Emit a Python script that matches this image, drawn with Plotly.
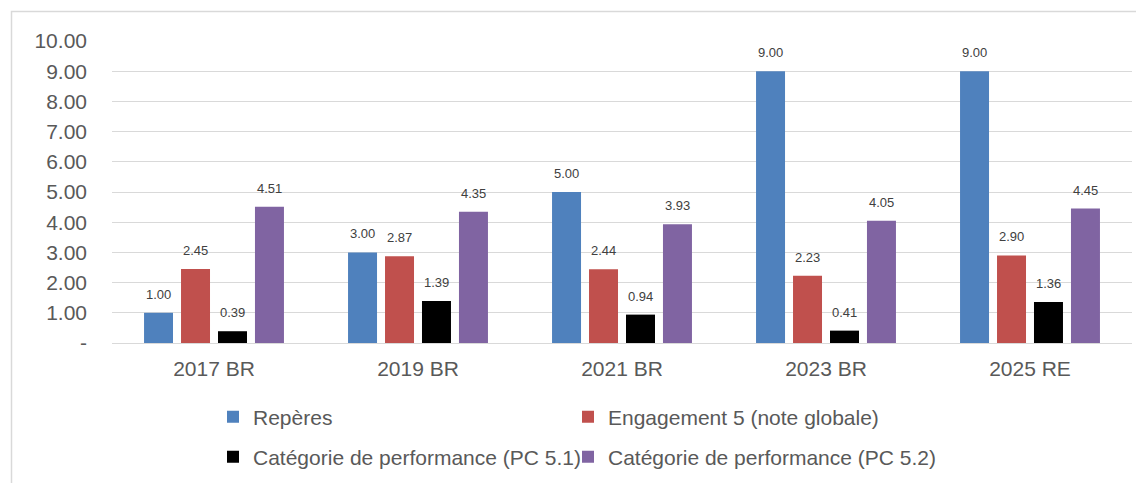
import plotly.graph_objects as go

categories = ["2017 BR", "2019 BR", "2021 BR", "2023 BR", "2025 RE"]
reperes = [1.00, 3.00, 5.00, 9.00, 9.00]
engagement = [2.45, 2.87, 2.44, 2.23, 2.90]
pc51 = [0.39, 1.39, 0.94, 0.41, 1.36]
pc52 = [4.51, 4.35, 3.93, 4.05, 4.45]

y_ticks = [0, 1, 2, 3, 4, 5, 6, 7, 8, 9, 10]
y_ticktext = ["-", "1.00", "2.00", "3.00", "4.00", "5.00", "6.00", "7.00", "8.00", "9.00", "10.00"]

series_names = ["Repères", "Engagement 5 (note globale)",
                "Catégorie de performance (PC 5.1)", "Catégorie de performance (PC 5.2)"]
series_values = [reperes, engagement, pc51, pc52]
series_colors = ["#4F81BD", "#C0504D", "#000000", "#8064A2"]
legend_ids = ["legend", "legend2", "legend3", "legend4"]

FONT = "Liberation Sans, Arial, sans-serif"
SLOT_PX = 37  # pixel distance between neighbouring bars in a group

# plot area in page pixels: x 112..1132, y 41..343 (page has 8px body margin)
PX_L, PX_R, PX_T, PX_B = 112, 1132, 41, 343
PW, PH = PX_R - PX_L, PX_B - PX_T

def px_x(x):
    return (x - PX_L) / PW

def px_y(y):
    return (PX_B - y) / PH

fig = go.Figure()
annotations = []
n = len(series_names)
for i, (name, vals, color, leg) in enumerate(zip(series_names, series_values, series_colors, legend_ids)):
    fig.add_trace(go.Bar(
        name=name, x=categories, y=vals,
        marker=dict(color=color, line=dict(width=0)),
        legend=leg,
    ))
    for cat, v in zip(categories, vals):
        annotations.append(dict(
            x=cat, y=v, xref="x", yref="y",
            text=f"{v:.2f}", showarrow=False,
            xanchor="center", yanchor="bottom",
            xshift=(i - (n - 1) / 2) * SLOT_PX, yshift=9,
            font=dict(size=13, color="#404040", family=FONT),
        ))

legend_common = dict(
    orientation="h", xanchor="left", yanchor="middle",
    font=dict(size=21, color="#595959", family=FONT),
    bgcolor="rgba(0,0,0,0)", itemwidth=30,
)
legend_pos = {
    "legend": (213, 417),
    "legend2": (568, 417),
    "legend3": (213, 457),
    "legend4": (568, 457),
}

fig.update_layout(
    width=1136, height=483,
    margin=dict(l=PX_L - 8, r=1144 - PX_R, t=PX_T - 8, b=483 + 8 - PX_B),
    paper_bgcolor="white", plot_bgcolor="white",
    barmode="group", bargap=0.275, bargroupgap=0.216,
    font=dict(family=FONT, color="#595959", size=21),
    showlegend=True,
    xaxis=dict(
        showgrid=False, showline=True, linecolor="#d9d9d9", linewidth=1,
        tickfont=dict(size=21, color="#595959", family=FONT), ticks="",
        ticklabelstandoff=7,
    ),
    yaxis=dict(
        range=[0, 10], tickvals=y_ticks, ticktext=y_ticktext,
        showgrid=True, gridcolor="#d9d9d9", gridwidth=1,
        zeroline=False, showline=False, ticks="",
        tickfont=dict(size=21, color="#595959", family=FONT),
        ticklabelstandoff=24,
    ),
    annotations=annotations,
    shapes=[dict(
        type="rect", xref="paper", yref="paper",
        x0=px_x(11.5), x1=1.2,
        y0=-1.0, y1=px_y(11.5),
        line=dict(color="#d9d9d9", width=1.5), fillcolor="rgba(0,0,0,0)",
        layer="below",
    )],
)
for leg, (lx, ly) in legend_pos.items():
    fig.update_layout({leg: dict(x=px_x(lx), y=px_y(ly), **legend_common)})

fig.write_html("out.html")
